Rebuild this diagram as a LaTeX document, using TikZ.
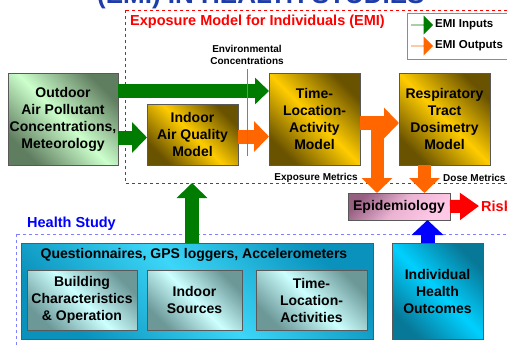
\documentclass[tikz,border=0pt]{standalone}
\usepackage{fontspec}
\setmainfont{Liberation Sans}
\usepackage{tikz}
\usetikzlibrary{arrows.meta,shapes.arrows,positioning}

\definecolor{emigreen}{RGB}{0,125,0}
\definecolor{emiorange}{RGB}{255,102,0}
\definecolor{titleblue}{RGB}{30,60,170}
\definecolor{mint}{RGB}{204,255,204}
\definecolor{mintdark}{RGB}{95,125,95}
\definecolor{gold}{RGB}{255,204,0}
\definecolor{golddark}{RGB}{105,82,0}
\definecolor{cyanlight}{RGB}{60,214,248}
\definecolor{cyandark}{RGB}{10,146,188}
\definecolor{icelight}{RGB}{204,255,255}
\definecolor{icedark}{RGB}{108,152,152}
\definecolor{seadark}{RGB}{8,120,152}
\definecolor{sealight}{RGB}{0,208,255}
\definecolor{pinklight}{RGB}{255,200,230}
\definecolor{pinkdark}{RGB}{150,95,130}

\newcommand{\boxfont}{\fontsize{14}{17}\selectfont\bfseries}
\newcommand{\smallfont}{\fontsize{10}{12}\selectfont\bfseries}

\tikzstyle{box}=[
    draw=black!65,
    line width=0.6pt,
    align=center,
    inner sep=0pt,
    outer sep=0pt,
    anchor=north west,
    font=\boxfont
]
% middle color has to come after left and right color
\tikzstyle{greenbox}=[
    box,
    left color=mintdark, right color=mintdark, middle color=mint,
    shading angle=135
]
\tikzstyle{goldbox}=[
    box,
    left color=golddark, right color=golddark, middle color=gold,
    shading angle=135
]
\tikzstyle{questbox}=[
    box,
    left color=cyandark, right color=cyandark, middle color=cyanlight,
    shading angle=135
]
\tikzstyle{subbox}=[
    box,
    left color=icedark, right color=icedark, middle color=icelight,
    shading angle=135
]
\tikzstyle{seabox}=[
    box,
    left color=seadark, right color=seadark, middle color=sealight,
    shading angle=135
]
\tikzstyle{epibox}=[
    box,
    left color=pinkdark, right color=pinklight, middle color=pinklight!80!pinkdark,
    shading angle=45
]
\tikzstyle{fat}=[
    line width=14pt,
    -{Triangle[length=15pt 0 0, width=30pt 0 0]}
]
\tikzstyle{inarrow}=[fat, draw=emigreen, fill=emigreen]
\tikzstyle{outarrow}=[fat, draw=emiorange, fill=emiorange]
\tikzstyle{legarrow}=[
    single arrow,
    minimum height=22pt,
    minimum width=19pt,
    single arrow head extend=4pt,
    inner sep=0pt
]
\tikzstyle{note}=[font=\smallfont, inner sep=0pt, align=center]

\begin{document}
\begin{tikzpicture}[x=1pt, y=-1pt]
\useasboundingbox (0,0) rectangle (507,346);

\node[anchor=base west, inner sep=0pt, text=titleblue,
    font=\fontsize{26}{30}\selectfont\bfseries] (title) at (97,3)
    {(EMI) IN HEALTH STUDIES};

% dashed frames
\draw[red, dashed, line width=0.6pt] (125,10) rectangle (530,183);
\coordinate (emisw) at (125,183);
\draw[blue!50, dashed, line width=0.8pt] (16,234) rectangle (530,370);

\node[anchor=west, inner sep=0pt, text=red, font=\fontsize{14.5}{17}\selectfont\bfseries]
    (emi) at (130,22) {Exposure Model for Individuals (EMI)};
\node[anchor=west, inner sep=0pt, text=blue, font=\fontsize{14.5}{17}\selectfont\bfseries]
    (hs) at (27,224) {Health Study};

% legend
\draw[black!45, fill=white, line width=0.6pt] (407,13) rectangle (530,59);
\node[legarrow, fill=emigreen, anchor=west] (lg1) at (411,25) {};
\node[legarrow, fill=emiorange, anchor=west] (lg2) at (411,46) {};
\node[anchor=west, inner sep=0pt, font=\fontsize{11.5}{14}\selectfont\bfseries]
    (lt1) at (435,25) {EMI Inputs};
\node[anchor=west, inner sep=0pt, font=\fontsize{11.5}{14}\selectfont\bfseries]
    (lt2) at (435,46) {EMI Outputs};

% models
\node[greenbox, minimum width=110pt, minimum height=92pt] (out) at (8,73)
    {Outdoor\\Air Pollutant\\Concentrations,\\Meteorology};
\node[goldbox, minimum width=91pt, minimum height=61pt] (iaq) at (147,104)
    {Indoor\\Air Quality\\Model};
\node[goldbox, minimum width=91pt, minimum height=92pt] (tla) at (269,73)
    {Time-\\Location-\\Activity\\Model};
\node[goldbox, minimum width=91pt, minimum height=92pt] (rtd) at (399,73)
    {Respiratory\\Tract\\Dosimetry\\Model};
\node[epibox, minimum width=102pt, minimum height=27pt] (epi) at (348,193)
    {Epidemiology};
\node[anchor=west, inner sep=2pt, text=red, font=\fontsize{14.5}{17}\selectfont\bfseries]
    (risk) at (479,206) {Risk};

\node[note] (env) at (247,55) {Environmental\\Concentrations};
\node[note, anchor=east] (expm) at (358,178) {Exposure Metrics};
\node[note, anchor=west] (dosem) at (443,178) {Dose Metrics};

% health study
\node[questbox, minimum width=352pt, minimum height=96pt] (quest) at (21,243) {};
\node[inner sep=0pt, font=\boxfont] (qt) at (194,255)
    {Questionnaires, GPS loggers, Accelerometers};
\node[subbox, minimum width=110pt, minimum height=60pt] (bldg) at (27,270)
    {Building\\Characteristics\\\& Operation};
\node[subbox, minimum width=95pt, minimum height=60pt, right=10pt of bldg] (src)
    {Indoor\\Sources};
\node[subbox, minimum width=111pt, minimum height=60pt, right=14pt of src] (act)
    {Time-\\Location-\\Activities};
\node[seabox, minimum width=91pt, minimum height=96pt] (ihealth) at (392,243)
    {Individual\\Health\\Outcomes};

% inputs
\draw[inarrow, -{Triangle[length=14pt 0 0, width=26pt 0 0]}]
    ([yshift=-18pt]out.north east) -- ([yshift=-18pt]out.north east -| tla.west);
\draw[inarrow] ([yshift=-3pt]iaq.west -| out.east) -- ([yshift=-3pt]iaq.west);
\draw[inarrow] ([xshift=-5pt]quest.north) -- ([xshift=-5pt]quest.north |- emisw);

% outputs
\draw[outarrow] ([yshift=-2pt]iaq.east) -- ([yshift=-2pt]iaq.east -| tla.west);
\draw[outarrow] ([yshift=-4pt]tla.east) -- ([yshift=-4pt]tla.east -| rtd.west);
\coordinate (tee) at ([xshift=17pt, yshift=-4pt]tla.east);
\draw[outarrow, line width=13pt] (tee) -- (tee |- epi.north);
\draw[outarrow, line width=13pt] ([xshift=-20pt]rtd.south) -- ([xshift=-20pt]rtd.south |- epi.north);

\draw[fat, line width=13pt, draw=red, fill=red, -{Triangle[length=19pt 0 0, width=26pt 0 0]}]
    (epi.east) -- (risk.west);
\draw[fat, draw=blue, fill=blue, -{Triangle[length=15pt 0 0, width=31pt 0 0]}]
    ([xshift=-10pt]ihealth.north) -- ([xshift=-10pt]ihealth.north |- epi.south);

\draw[black!50, line width=0.8pt] (247,69) -- (247,156);
\end{tikzpicture}
\end{document}
